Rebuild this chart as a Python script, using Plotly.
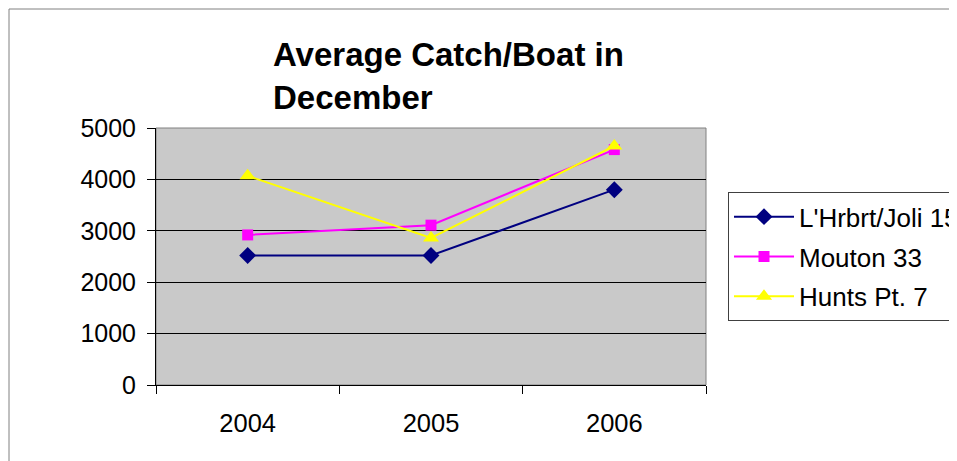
import plotly.graph_objects as go

years = ["2004", "2005", "2006"]
lhrbrt = [2520, 2520, 3800]
mouton = [2920, 3110, 4580]
hunts = [4070, 2860, 4650]

FONT = "Liberation Sans, Arial, sans-serif"

fig = go.Figure()
fig.add_scatter(
    x=years, y=lhrbrt, name="L'Hrbrt/Joli 15", mode="lines+markers",
    legendgroup="a",
    line=dict(color="#000080", width=2),
    marker=dict(symbol="diamond", size=13, color="#000080"),
)
fig.add_scatter(
    x=years, y=mouton, name="Mouton 33", mode="lines+markers",
    legendgroup="b",
    line=dict(color="#ff00ff", width=2),
    marker=dict(symbol="square", size=11, color="#ff00ff"),
)
fig.add_scatter(
    x=years, y=hunts, name="Hunts Pt. 7", mode="lines+markers",
    legendgroup="c",
    line=dict(color="#ffff00", width=2),
    marker=dict(symbol="triangle-up", size=14, color="#ffff00"),
)

fig.update_layout(
    width=957, height=461,
    margin=dict(l=148, r=259, t=120, b=84, autoexpand=False),
    paper_bgcolor="white",
    plot_bgcolor="#c9c9c9",
    font=dict(family=FONT, size=25, color="black"),
    title=dict(
        text="<b>Average Catch/Boat in<br>December</b>",
        x=265 / 957, xanchor="left", xref="container",
        y=1 - 58 / 461, yanchor="top",
        font=dict(family=FONT, size=33, color="black"),
    ),
    showlegend=True,
    legend=dict(
        x=1.04, xanchor="left", y=0.75, yanchor="top",
        bordercolor="#404040", borderwidth=1, bgcolor="white",
        font=dict(family=FONT, size=26),
        itemwidth=60, tracegroupgap=3,
    ),
    xaxis=dict(
        type="category", tickson="boundaries", range=[-0.5, 2.5],
        showgrid=False, showline=True, linecolor="black", linewidth=1,
        ticks="outside", ticklen=8, tickcolor="black",
        ticklabelstandoff=15, tickfont=dict(size=25.5),
    ),
    yaxis=dict(
        range=[0, 5000], dtick=1000, tickformat="d",
        showgrid=True, gridcolor="black", gridwidth=1,
        zeroline=False,
        showline=True, linecolor="black", linewidth=1,
        ticks="outside", ticklen=8, tickcolor="black",
        ticklabelstandoff=6,
    ),
    shapes=[
        dict(type="rect", xref="paper", yref="paper", x0=0, x1=1, y0=0, y1=1,
             line=dict(color="#808080", width=1), layer="below"),
        dict(type="rect", xref="paper", yref="paper",
             x0=(1 - 148) / 550, x1=2, y0=-1, y1=(377 - 1) / 257,
             line=dict(color="#808080", width=1)),
    ],
)

fig.write_html("out.html")
